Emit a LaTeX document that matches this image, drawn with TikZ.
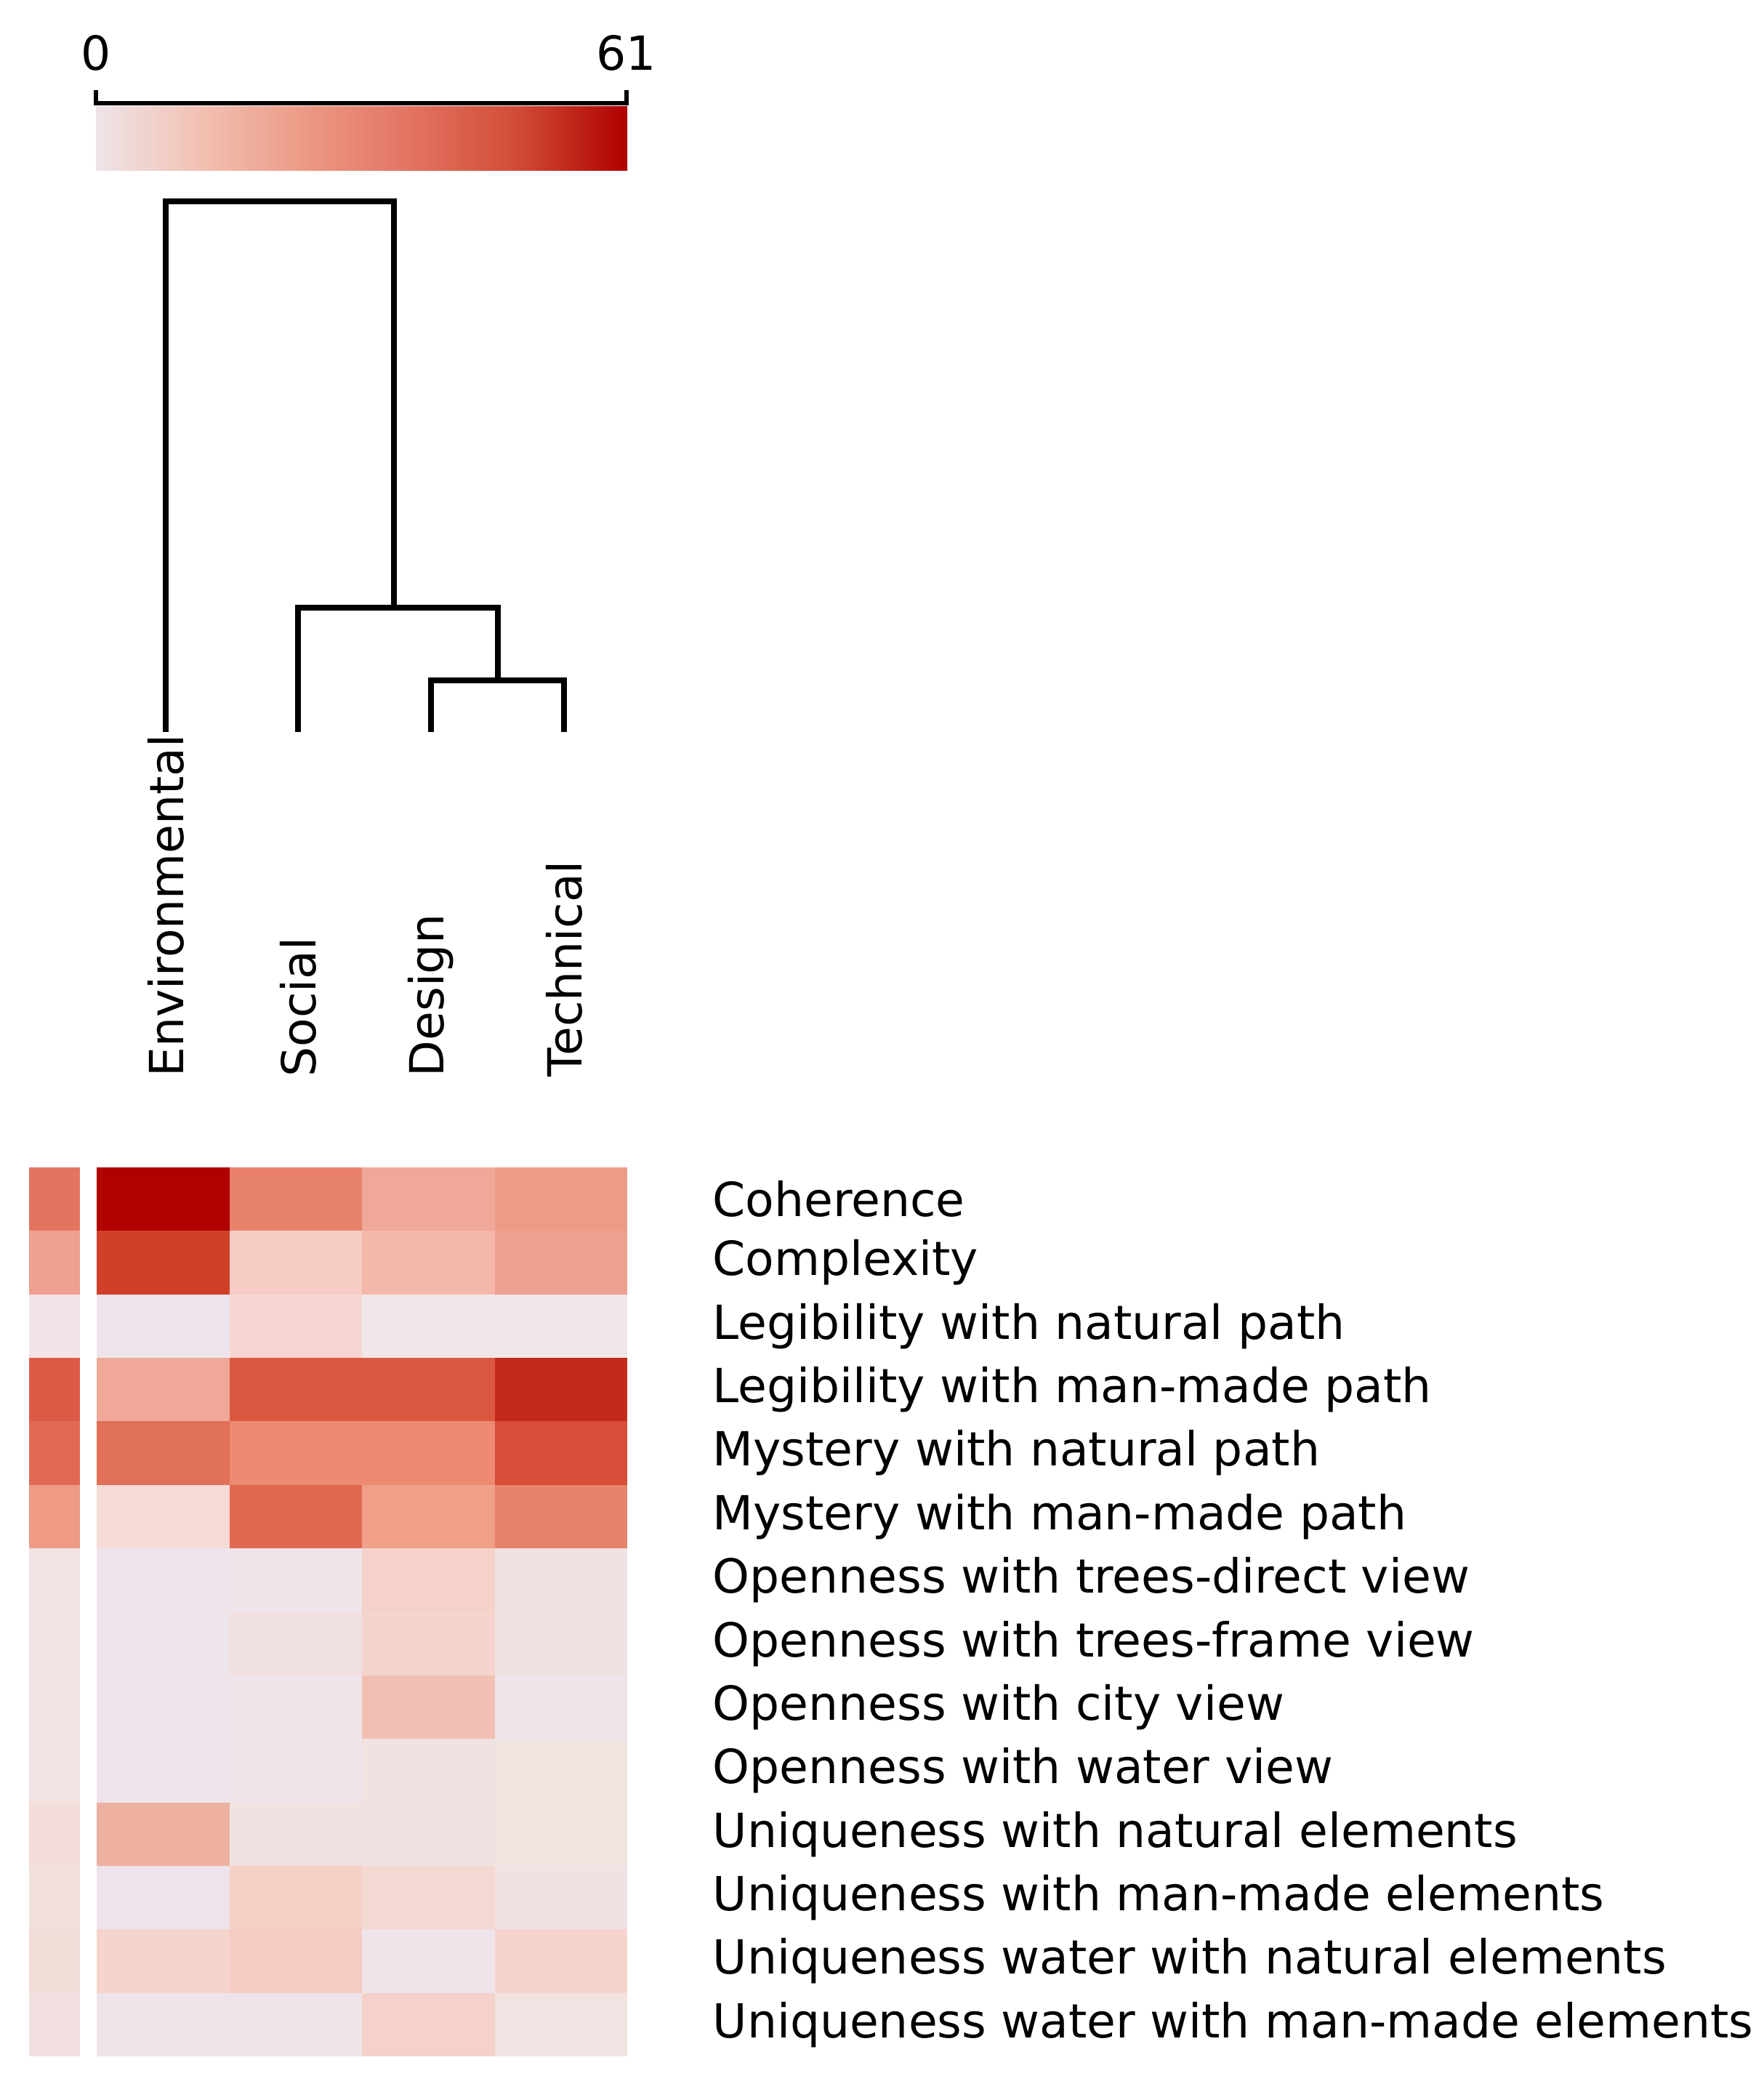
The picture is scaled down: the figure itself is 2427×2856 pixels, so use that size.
\documentclass[tikz,border=0pt]{standalone}
\usepackage{fontspec}
\setmainfont{DejaVu Sans}
\begin{document}
\begin{tikzpicture}[x=0.01cm,y=-0.01cm,
  lbl/.style={font=\fontsize{18.4}{22}\selectfont, inner sep=0pt},
  dend/.style={line width=2.2pt, line cap=butt}]
\useasboundingbox (0,0) rectangle (2427,2856);
% colour bar
\foreach \i/\a/\b in {0/EEE4E8/F2C0B2,1/F2C0B2/EC9884,2/EC9884/E27260,3/E27260/D04A34,4/D04A34/B00000}{
  \definecolor{ca}{HTML}{\a}\definecolor{cb}{HTML}{\b}
  \shade[left color=ca,right color=cb] ({132+146*\i},146) rectangle ({132+146*(\i+1)+1},234);
}
\draw[line width=1.6pt] (132,124) -- (132,142) -- (862,142) -- (862,124);
\node[lbl,anchor=center] (c0) at (132,73) {0};
\node[lbl,anchor=center] (c61) at (862,73) {61};
% dendrogram
\coordinate (lE) at (228,1007); \coordinate (lS) at (410,1007);
\coordinate (lD) at (593,1007); \coordinate (lT) at (776,1007);
\draw[dend] (lD) |- (685,936) -| (lT);
\draw[dend] (lS) |- (542,836) -| (685,936);
\draw[dend] (lE) |- (542,277) -- (542,836);
% column labels
\foreach \n/\x/\t in {E/228/Environmental,S/410/Social,D/593/Design,T/776/Technical}
  \node[lbl,rotate=90,anchor=west] (t\n) at (\x,1482) {\t};
% heatmap
\def\rh{87.35}
\foreach \r/\cl/\ce/\cs/\cd/\ct in {
 1/E37560/B00000/E8826A/F0A898/EE9A88,
 2/F0A090/D04028/F6CCC4/F4B8AA/EEA090,
 3/F2E4E6/ECE4EA/F6D6D0/F0E6E8/F0E6E8,
 4/DC5A45/F0A898/DA5840/DA5840/C42A1A,
 5/E06A55/E07058/EC8A72/EC8A72/D84C38,
 6/EE9A85/F6DAD6/E06850/F0A088/E8826A,
 7/F2E2E4/ECE4EA/EEE4EA/F4D2CA/F0E2E2,
 8/F2E2E4/ECE4EA/F0E0E0/F4D4CC/F0E2E2,
 9/F2E2E4/ECE4EA/EEE4EA/F2C0B2/EEE4EA,
 10/F2E2E4/ECE4EA/EEE4EA/F0E2E0/F0E4E0,
 11/F2DDDA/EEB0A0/F0E2E0/F0E2E0/F0E4E0,
 12/F2E0DE/ECE4EA/F4CFC6/F4D8D2/F0E2E2,
 13/F0DDD8/F4D4CC/F4CCC4/EEE4EA/F4D4CC,
 14/F2E0E0/EEE4EA/EEE4EA/F4D2CA/F2E2E2}{
  \pgfmathsetmacro\ya{1606+\rh*(\r-1)}\pgfmathsetmacro\yb{1606+\rh*\r+0.5}
  \definecolor{k0}{HTML}{\cl}\definecolor{k1}{HTML}{\ce}\definecolor{k2}{HTML}{\cs}
  \definecolor{k3}{HTML}{\cd}\definecolor{k4}{HTML}{\ct}
  \fill[k0] (40,\ya) rectangle (110,\yb);
  \fill[k1] (133,\ya) rectangle (317,\yb);
  \fill[k2] (316,\ya) rectangle (499,\yb);
  \fill[k3] (498,\ya) rectangle (682,\yb);
  \fill[k4] (681,\ya) rectangle (863,\yb);
}
% row labels
\foreach \t [count=\r] in {Coherence,Complexity,Legibility with natural path,Legibility with man-made path,Mystery with natural path,Mystery with man-made path,Openness with trees-direct view,Openness with trees-frame view,Openness with city view,Openness with water view,Uniqueness with natural elements,Uniqueness with man-made elements,Uniqueness water with natural elements,Uniqueness water with man-made elements}
  \node[lbl,anchor=west] (r\r) at (980,{1606+87.35*(\r-0.5)}) {\t};
\end{tikzpicture}
\end{document}
